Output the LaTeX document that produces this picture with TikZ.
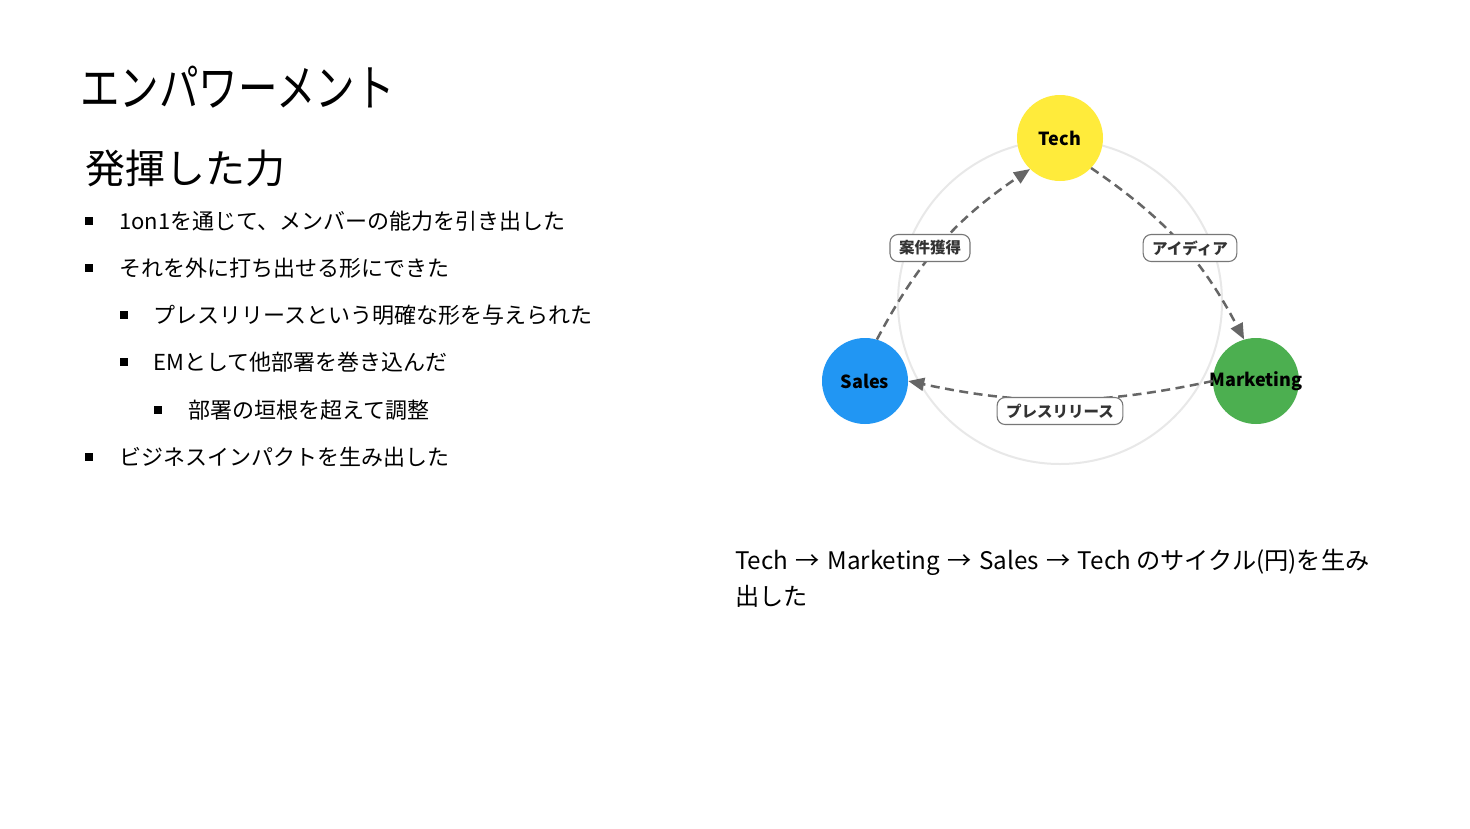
\documentclass[tikz,border=0pt]{standalone}
\usepackage{fontspec}
\setmainfont{Noto Sans CJK JP}
\usetikzlibrary{arrows.meta}
\definecolor{techY}{HTML}{FFEB3B}
\definecolor{salesB}{HTML}{2196F3}
\definecolor{mktG}{HTML}{4CAF50}
\definecolor{arrG}{HTML}{666666}
\definecolor{ringG}{HTML}{E8E8E8}
\definecolor{lblG}{HTML}{777777}
\newcommand{\rarr}{\kern2pt→\kern2pt}
\tikzset{
  circnode/.style={circle, minimum size=86pt, inner sep=0pt, font=\fontsize{18pt}{20pt}\selectfont\bfseries},
  flowarr/.style={draw=arrG, line width=2.5pt, dash pattern=on 9pt off 5.5pt, -{Triangle[length=16pt,width=13pt]}},
  lbl/.style={draw=lblG, fill=white, line width=1.1pt, rounded corners=8pt, inner xsep=9pt, inner ysep=0pt, minimum height=27pt, text=black!80, font=\fontsize{15.5pt}{17pt}\selectfont\bfseries},
  bsq/.style={fill=black, minimum size=8pt, inner sep=0pt},
  btxt/.style={anchor=base west, inner sep=0pt, font=\fontsize{22pt}{27pt}\selectfont},
  captxt/.style={anchor=base west, inner sep=0pt, font=\fontsize{24.2pt}{28pt}\selectfont},
}
\begin{document}
\begin{tikzpicture}[x=1pt,y=-1pt]
\useasboundingbox[fill=white] (0,0) rectangle (1470,828);
% titles
\node[anchor=base west, inner sep=0pt, font=\fontsize{50pt}{56pt}\selectfont] (title) at (80,106) {\scalebox{0.79}[1]{エンパワーメント}};
\node[anchor=base west, inner sep=0pt, font=\fontsize{40pt}{46pt}\selectfont] (sub) at (85,183) {発揮した力};
% bullets
\node[bsq] (b1) at (89,221) {};
\node[btxt] (t1) at (119,229.5) {1on1を通じて、メンバーの能力を引き出した};
\node[bsq] (b2) at (89,268) {};
\node[btxt] (t2) at (119,276.5) {それを外に打ち出せる形にできた};
\node[bsq] (b3) at (124,315) {};
\node[btxt] (t3) at (153,323.5) {プレスリリースという明確な形を与えられた};
\node[bsq] (b4) at (124,362) {};
\node[btxt] (t4) at (153,370.5) {EMとして他部署を巻き込んだ};
\node[bsq] (b5) at (158,410) {};
\node[btxt] (t5) at (188,418.5) {部署の垣根を超えて調整};
\node[bsq] (b6) at (89,457) {};
\node[btxt] (t6) at (119,465.5) {ビジネスインパクトを生み出した};
% ring
\coordinate (ringc) at (1060,302);
\draw[ringG, line width=2pt] (ringc) circle[radius=162];
% nodes
\node[circnode, fill=techY] (tech) at (1060,138) {\makebox[0pt]{Tech}};
\node[circnode, fill=salesB] (sales) at (865,381) {\makebox[0pt]{Sales}};
\node[circnode, fill=mktG] (mkt) at (1256,381) {\makebox[0pt]{Marketing}};
% arrows
\draw[flowarr] (tech.-44) to[bend left=14] (mkt.106);
\draw[flowarr] (mkt.180) to[bend left=12] (sales.0);
\draw[flowarr] (sales.74) to[bend left=14] (tech.226);
% labels
\node[lbl] (l1) at (1190,248) {アイディア};
\node[lbl] (l2) at (1060,411) {プレスリリース};
\node[lbl] (l3) at (930,248) {案件獲得};
% bottom text
\node[captxt] (c1) at (735,569) {Tech \rarr{} Marketing \rarr{} Sales \rarr{} Tech のサイクル(円)を生み};
\node[captxt] (c2) at (735,605) {出した};
\end{tikzpicture}
\end{document}
